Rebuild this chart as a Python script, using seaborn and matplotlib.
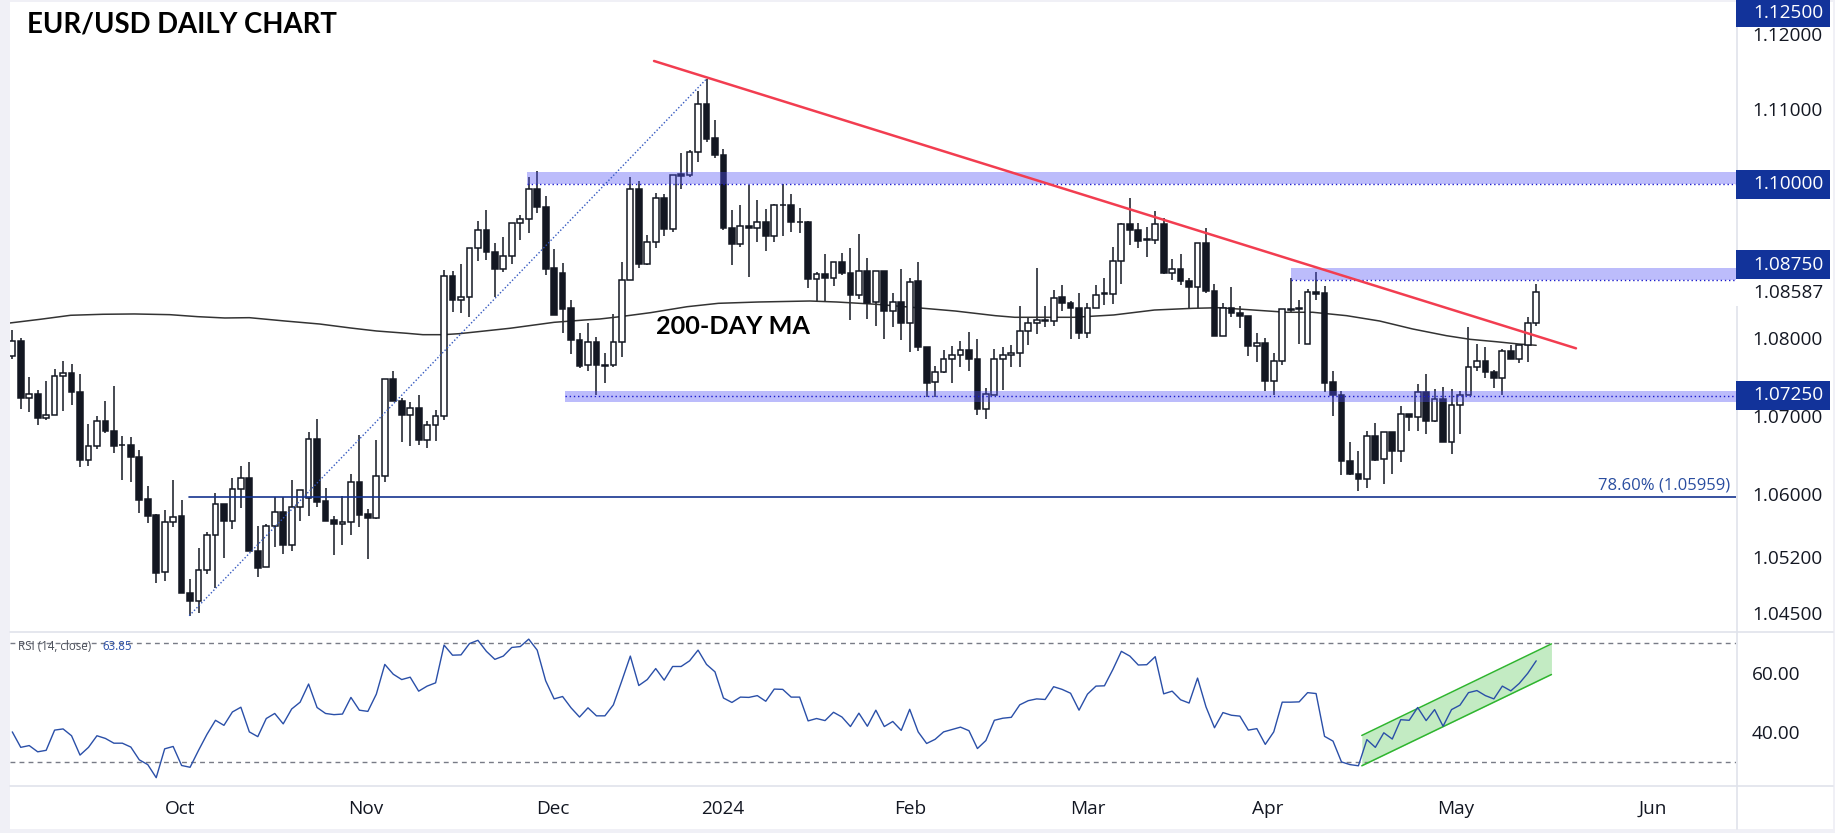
import numpy as np
import pandas as pd
import seaborn as sns
import matplotlib.pyplot as plt
from matplotlib.patches import Rectangle
from matplotlib.lines import Line2D

# daily EUR/USD candles
opens = [1.07764,1.07960,1.07226,1.07277,1.06966,1.07009,1.07504,1.07546,1.07307,1.06428,
1.06612,1.06936,1.06804,1.06629,1.06625,1.06475,1.05938,1.05733,1.05012,1.05647,
1.05720,1.04760,1.04649,1.05037,1.05485,1.05874,1.05665,1.06061,1.06206,1.05281,
1.05078,1.05601,1.05780,1.05359,1.05831,1.05946,1.06700,1.05908,1.05670,1.05623,
1.05653,1.06151,1.05746,1.05704,1.06228,1.07471,1.07186,1.07003,1.07101,1.06688,
1.06879,1.06994,1.08800,1.08484,1.08527,1.09164,1.09399,1.09112,1.08886,1.09055,
1.09494,1.09541,1.09940,1.09706,1.08901,1.08836,1.08381,1.07974,1.07645,1.07948,
1.07654,1.07645,1.07948,1.08753,1.09940,1.08957,1.09247,1.09818,1.09411,1.10132,
1.10128,1.10424,1.11064,1.10609,1.10388,1.09429,1.09221,1.09455,1.09429,1.09507,
1.09320,1.09732,1.09727,1.09511,1.09511,1.08762,1.08831,1.08779,1.08987,1.08844,
1.08554,1.08870,1.08459,1.08870,1.08346,1.08467,1.08190,1.08732,1.07883,1.07429,
1.07558,1.07727,1.07779,1.07844,1.07727,1.07087,1.07268,1.07727,1.07779,1.07805,
1.08086,1.08194,1.08233,1.08216,1.08523,1.08454,1.08389,1.08060,1.08389,1.08562,
1.08567,1.09000,1.09480,1.09402,1.09277,1.09268,1.09480,1.08839,1.08896,1.08740,
1.08658,1.09233,1.08610,1.08021,1.08389,1.08324,1.08285,1.07891,1.07935,1.07437,
1.07699,1.08358,1.08375,1.07919,1.08590,1.08582,1.07428,1.07260,1.06424,1.06255,
1.06187,1.06738,1.06441,1.06789,1.06543,1.07018,1.06988,1.07299,1.06925,1.07209,
1.06658,1.07132,1.07260,1.07622,1.07699,1.07557,1.07488,1.07828,1.07725,1.07906,1.08190]
highs = [1.08101,1.07994,1.07499,1.07333,1.07448,1.07602,1.07704,1.07666,1.07533,1.06898,
1.07000,1.07192,1.07384,1.06744,1.06731,1.06565,1.06104,1.05746,1.05797,1.06181,
1.05925,1.04926,1.05323,1.05524,1.06010,1.05874,1.06202,1.06360,1.06411,1.05592,
1.05627,1.05959,1.05959,1.06181,1.06049,1.06794,1.06960,1.06078,1.05721,1.05976,
1.06257,1.06756,1.05806,1.06692,1.07467,1.07573,1.07224,1.07177,1.07267,1.06935,
1.07075,1.08882,1.08869,1.08960,1.09163,1.09521,1.09665,1.09230,1.09312,1.09491,
1.09602,1.10097,1.10177,1.09849,1.09147,1.08965,1.08485,1.08065,1.08186,1.08013,
1.07805,1.08303,1.08978,1.10097,1.10044,1.09329,1.09888,1.09875,1.10128,1.10415,
1.10455,1.11236,1.11395,1.10852,1.10468,1.09667,1.09732,1.09996,1.09797,1.09680,
1.09745,1.10000,1.09874,1.09693,1.09524,1.08857,1.09082,1.08987,1.09104,1.09169,
1.09342,1.09030,1.08870,1.08870,1.08584,1.08887,1.08771,1.08987,1.07883,1.07641,
1.07844,1.07896,1.07961,1.08069,1.07987,1.07351,1.07857,1.07883,1.07909,1.08407,
1.08272,1.08900,1.08406,1.08614,1.08679,1.08480,1.08575,1.08445,1.08679,1.08770,
1.09173,1.09497,1.09818,1.09497,1.09445,1.09653,1.09558,1.09017,1.09082,1.08779,
1.09233,1.09432,1.08692,1.08445,1.08653,1.08406,1.08285,1.08065,1.08000,1.07805,
1.08371,1.08771,1.08491,1.08633,1.08849,1.08668,1.07570,1.07312,1.06666,1.06551,
1.06802,1.06903,1.06789,1.06789,1.07124,1.07018,1.07402,1.07536,1.07338,1.07368,
1.07342,1.07312,1.08143,1.07923,1.07884,1.07587,1.07854,1.07910,1.07906,1.08272,1.08698]
lows = [1.07730,1.07081,1.07043,1.06876,1.06949,1.07009,1.07064,1.07132,1.06339,1.06352,
1.06569,1.06774,1.06518,1.06181,1.06160,1.05758,1.05630,1.04879,1.04905,1.05583,
1.04751,1.04470,1.04508,1.04995,1.04815,1.05199,1.05558,1.05827,1.05276,1.04956,
1.05078,1.05329,1.05239,1.05286,1.05661,1.05725,1.05840,1.05661,1.05227,1.05354,
1.05482,1.05584,1.05176,1.05687,1.06159,1.07182,1.06658,1.06607,1.06619,1.06581,
1.06671,1.06939,1.08328,1.08315,1.08264,1.08990,1.09012,1.08534,1.08847,1.08960,
1.09264,1.09359,1.09619,1.08814,1.08290,1.08056,1.07797,1.07606,1.07567,1.07264,
1.07424,1.07619,1.07749,1.08753,1.08905,1.08944,1.09165,1.09320,1.09372,1.09944,
1.10102,1.10300,1.10561,1.10353,1.09398,1.08944,1.09178,1.08788,1.09243,1.09126,
1.09242,1.09320,1.09372,1.09359,1.08645,1.08463,1.08480,1.08671,1.08814,1.08229,
1.08502,1.08242,1.08151,1.07983,1.08138,1.07970,1.07814,1.07827,1.07242,1.07242,
1.07541,1.07424,1.07628,1.07576,1.07004,1.06957,1.07260,1.07329,1.07628,1.07628,
1.07913,1.08043,1.08134,1.08147,1.08342,1.07978,1.07978,1.07991,1.08389,1.08419,
1.08432,1.08692,1.09199,1.09160,1.09043,1.09212,1.08822,1.08744,1.08679,1.08372,
1.08381,1.08575,1.08021,1.08021,1.08264,1.08121,1.07761,1.07692,1.07316,1.07259,
1.07652,1.08332,1.07923,1.07919,1.08491,1.07308,1.07001,1.06238,1.06238,1.06034,
1.06072,1.06424,1.06123,1.06250,1.06403,1.06797,1.06797,1.06759,1.06912,1.06658,
1.06505,1.06759,1.07260,1.07566,1.07488,1.07355,1.07260,1.07721,1.07669,1.07682,1.08147]
closes = [1.07956,1.07222,1.07277,1.06966,1.07009,1.07508,1.07546,1.07299,1.06428,1.06612,
1.06932,1.06800,1.06607,1.06620,1.06467,1.05929,1.05724,1.05007,1.05652,1.05716,
1.04751,1.04649,1.05037,1.05485,1.05869,1.05660,1.06061,1.06202,1.05276,1.05071,
1.05601,1.05780,1.05354,1.05831,1.06049,1.06700,1.05904,1.05661,1.05623,1.05653,
1.06151,1.05738,1.05699,1.06228,1.07467,1.07182,1.07003,1.07096,1.06683,1.06879,
1.06994,1.08800,1.08484,1.08527,1.09163,1.09399,1.09108,1.08886,1.09060,1.09491,
1.09546,1.09935,1.09697,1.08892,1.08290,1.08372,1.07970,1.07641,1.07948,1.07645,
1.07641,1.07948,1.08753,1.09935,1.08957,1.09247,1.09818,1.09411,1.10119,1.10115,
1.10424,1.11059,1.10600,1.10380,1.09424,1.09217,1.09455,1.09429,1.09507,1.09320,
1.09727,1.09723,1.09502,1.09502,1.08762,1.08831,1.08775,1.08987,1.08840,1.08554,
1.08870,1.08455,1.08870,1.08346,1.08463,1.08190,1.08727,1.07879,1.07424,1.07558,
1.07727,1.07779,1.07844,1.07723,1.07087,1.07273,1.07727,1.07779,1.07805,1.08091,
1.08194,1.08233,1.08216,1.08519,1.08450,1.08385,1.08060,1.08389,1.08558,1.08575,
1.09000,1.09480,1.09398,1.09255,1.09268,1.09480,1.08839,1.08896,1.08736,1.08658,
1.09233,1.08606,1.08021,1.08389,1.08320,1.08281,1.07891,1.07935,1.07437,1.07701,
1.08371,1.08371,1.08384,1.08590,1.08573,1.07424,1.07260,1.06416,1.06250,1.06187,
1.06738,1.06437,1.06789,1.06543,1.07018,1.06988,1.07299,1.06925,1.07209,1.06658,
1.07132,1.07260,1.07622,1.07699,1.07553,1.07488,1.07828,1.07721,1.07906,1.08190,1.08590]

# 200 day moving average, picked at a handful of bars
ma_bars = [-0.3,3.3,6.9,10.7,14.4,18.6,21.9,25.1,28,32.2,36.3,40,43,46.6,48.5,50.9,52.8,58.8,64,67.6,
69.4,71.8,75.4,79.7,83.4,88.1,94.2,97.4,102.1,107.7,111.4,116.1,118.4,125.4,130.1,134.9,139.4,142.6,
150.5,153.6,157.6,161.5,165.4,169.4,172.2,175.3,178,180]
ma_values = [1.08191,1.08239,1.08291,1.08304,1.08308,1.08299,1.08273,1.08256,1.08260,1.08217,1.08178,1.08126,
1.08088,1.08058,1.08040,1.08040,1.08053,1.08123,1.08200,1.08230,1.08243,1.08273,1.08325,1.08402,1.08446,
1.08463,1.08476,1.08463,1.08433,1.08381,1.08346,1.08286,1.08265,1.08265,1.08295,1.08359,1.08381,1.08389,
1.08330,1.08330,1.08286,1.08217,1.08114,1.08027,1.07980,1.07949,1.07919,1.07903]

rsi_values = [40.2,35.0,35.6,33.5,34.0,40.8,41.2,38.9,32.4,35.0,
38.9,38.0,36.4,36.4,35.1,30.8,29.2,24.8,34.5,35.3,
28.9,28.3,34.0,39.4,44.1,42.4,46.9,48.5,40.2,38.6,
44.7,46.4,42.9,47.9,50.2,56.3,48.4,46.4,46.0,46.2,
51.8,47.5,47.1,52.9,62.9,59.6,57.8,58.6,53.9,55.6,
56.7,69.4,66.0,66.1,69.9,71.0,67.3,64.6,65.7,68.6,
68.9,71.4,67.7,57.4,51.3,52.1,48.3,45.2,48.3,45.6,
45.6,49.3,57.4,65.7,55.8,57.8,61.5,57.6,62.2,62.2,
64.1,67.7,62.9,60.4,51.6,50.1,51.9,51.8,52.4,50.5,
54.6,54.5,51.9,51.9,43.9,44.7,44.0,46.8,45.2,42.0,
46.5,42.1,47.5,42.0,43.7,40.7,
47.8,40.2,36.3,37.7,40.2,41.0,41.8,40.6,34.6,37.3,
44.1,44.8,45.1,49.3,50.7,51.3,51.1,55.4,54.5,53.2,
47.5,52.9,55.6,55.7,61.2,67.3,65.7,62.7,62.8,65.5,
53.0,53.9,51.0,49.9,58.3,48.6,41.6,46.7,45.8,45.5,
40.8,41.3,36.0,40.2,50.2,50.2,50.3,53.4,53.1,38.7,
37.1,30.1,29.2,28.8,37.6,35.0,39.9,37.8,44.3,44.1,
48.4,44.0,47.7,42.1,47.7,49.2,53.4,54.1,52.4,51.3,
55.6,54.0,56.5,59.9,64.1]

month_bars = [19.8,41.8,63.8,83.9,106,127.1,148.3,170.5,193.8]
month_labels = ["Oct","Nov","Dec","2024","Feb","Mar","Apr","May","Jun"]
price_ticks = [1.12,1.11,1.08,1.07,1.06,1.052,1.045]
rsi_ticks = [60,40]

# levels and drawn lines
band_levels = [1.10,1.0875,1.0725]
band_tops = [1.10162,1.08905,1.07315]
band_bottoms = [1.10,1.0875,1.07179]
band_starts = [60.8,151,65.3]
trend_x = [75.8,184.7]
trend_y = [1.11634,1.07864]
fib_x = [20.9,82]
fib_y = [1.04470,1.11395]
fib_level = 1.05959
channel_x = [159.4,181.8]
channel_low = [28.8,59.5]
channel_high = [39.0,69.8]

W, H = 1835, 833
X_LEFT, X_RIGHT = -0.27, 203.6
DARK = "#131722"
NAVY = "#12339a"


def px_box(x0, y0, x1, y1):
    return [x0 / W, 1 - y1 / H, (x1 - x0) / W, (y1 - y0) / H]


sns.set_theme(style="white")
plt.rcParams["font.family"] = ["Open Sans", "DejaVu Sans"]

df = pd.DataFrame({"bar": np.arange(len(opens)), "open": opens, "high": highs,
                   "low": lows, "close": closes, "rsi": rsi_values})
up = df[df["close"] >= df["open"]]
down = df[df["close"] < df["open"]]

fig = plt.figure(figsize=(W / 100, H / 100), dpi=100, facecolor="#f0f0f6")
fig.add_artist(Rectangle((10 / W, 1 - 829 / H), (W - 12) / W, 827 / H, transform=fig.transFigure,
                         facecolor="white", edgecolor="none", zorder=-1))

ax = fig.add_axes(px_box(10, 2, 1736, 632))
ax.patch.set_alpha(0)
ax.set_yscale("log")

# candles
ax.vlines(df["bar"], df["low"], df["high"], color=DARK, lw=1.1, zorder=2)
ax.bar(up["bar"], up["close"] - up["open"], bottom=up["open"], width=0.68,
       facecolor="white", edgecolor=DARK, linewidth=1.1, zorder=3)
ax.bar(down["bar"], down["open"] - down["close"], bottom=down["close"], width=0.68,
       facecolor=DARK, edgecolor=DARK, linewidth=1.1, zorder=3)

sns.lineplot(x=ma_bars, y=ma_values, ax=ax, color="#333333", lw=1.1, zorder=2.5, errorbar=None)

# support/resistance bands sit over the candles
for level, top, bottom, start in zip(band_levels, band_tops, band_bottoms, band_starts):
    ax.fill_between([start, X_RIGHT], bottom, top, color="#5050f5", alpha=0.38, lw=0, zorder=4)
    ax.plot([start, X_RIGHT], [level, level], color="#1a1acc", lw=1.0, ls=(0, (1, 2)), zorder=5)

ax.plot(fib_x, fib_y, color="#3358c0", lw=1.0, ls=(0, (1, 1.5)), zorder=5)
ax.plot([fib_x[0], X_RIGHT], [fib_level, fib_level], color="#15338f", lw=1.2, zorder=5)
ax.plot(trend_x, trend_y, color="#f23d50", lw=1.8, zorder=6)

ax.text(76, 1.08143, "200-DAY MA", fontfamily="Lato", fontweight="bold", fontsize=18.2,
        color="black", va="center", ha="left", zorder=7)
ax.text(202.9, 1.06115, "78.60% (1.05959)", fontsize=12, color="#2a4ea0", va="center", ha="right", zorder=7)

ax.set_xlim(X_LEFT, X_RIGHT)
ax.set_ylim(1.04267, 1.12424)
ax.yaxis.tick_right()
ax.set_yticks(price_ticks)
ax.set_yticklabels([f"{t:.5f}" for t in price_ticks])
ax.minorticks_off()
ax.tick_params(axis="y", length=0, pad=11.5, labelsize=13.7, labelcolor=DARK)
ax.set_xticks([])
ax.set_xlabel("")
ax.set_ylabel("")
sns.despine(ax=ax, left=True, right=True, top=True, bottom=True)

# rsi pane
ax2 = fig.add_axes(px_box(10, 632, 1736, 786))
ax2.patch.set_alpha(0)
ax2.axhline(70, color="#787b86", lw=1, ls=(0, (3.5, 3)))
ax2.axhline(30, color="#787b86", lw=1, ls=(0, (3.5, 3)))
ax2.fill_between(channel_x, channel_low, channel_high, color="#c3ebc3", lw=0, zorder=1)
ax2.plot(channel_x, channel_low, color="#2fb52f", lw=1.1, zorder=2)
ax2.plot(channel_x, channel_high, color="#2fb52f", lw=1.1, zorder=2)
sns.lineplot(data=df, x="bar", y="rsi", ax=ax2, color="#2a4fa8", lw=1.0, zorder=3, errorbar=None)
ax2.set_xlim(X_LEFT, X_RIGHT)
ax2.set_ylim(22.0, 73.8)
ax2.yaxis.tick_right()
ax2.set_yticks(rsi_ticks)
ax2.set_yticklabels([f"{t:.2f}" for t in rsi_ticks])
ax2.set_xticks(month_bars)
ax2.set_xticklabels(month_labels)
ax2.tick_params(axis="y", length=0, pad=11.5, labelsize=13.7, labelcolor=DARK)
ax2.tick_params(axis="x", length=0, pad=10, labelsize=13.7, labelcolor=DARK)
ax2.set_xlabel("")
ax2.set_ylabel("")
sns.despine(ax=ax2, left=True, right=True, top=True, bottom=True)
fig.text(18 / W, 1 - 647 / H, "RSI (14, close)", fontsize=8.3, color="#4a4e59", va="center", ha="left")
fig.text(102 / W, 1 - 647 / H, "63.85", fontsize=8.3, color="#2a4fa8", va="center", ha="left")

# pane separators
for y in (632, 786):
    fig.add_artist(Line2D([10 / W, 1833 / W], [1 - y / H, 1 - y / H], color="#e0e3eb", lw=1.2, zorder=1))
fig.add_artist(Line2D([1736.5 / W, 1736.5 / W], [1 - 2 / H, 1 - 829 / H], color="#e0e3eb", lw=1.2, zorder=1))

# price label boxes on the right
fig.add_artist(Rectangle((1736 / W, 1 - 306 / H), 94 / W, 27 / H, transform=fig.transFigure,
                         facecolor="white", edgecolor="none", zorder=2))
fig.text(1788 / W, 1 - 293.3 / H, "1.08587", fontsize=13.7, color=DARK, va="center", ha="center", zorder=3)
box_labels = ["1.12500", "1.10000", "1.08750", "1.07250"]
box_tops = [0, 170, 250, 381]
box_bottoms = [27, 198.7, 279, 409.7]
for label, y0, y1 in zip(box_labels, box_tops, box_bottoms):
    fig.add_artist(Rectangle((1736 / W, 1 - y1 / H), 94 / W, (y1 - y0) / H, transform=fig.transFigure,
                             facecolor=NAVY, edgecolor="none", zorder=2))
    fig.text(1788 / W, 1 - (y0 + y1) / 2 / H, label, fontsize=13.7, color="white", fontweight="medium",
             va="center", ha="center", zorder=3)

fig.text(27 / W, 1 - 24 / H, "EUR/USD DAILY CHART", fontfamily="Lato", fontweight="bold", fontsize=19.8,
         color="black", va="center", ha="left")

fig.savefig("out.png", dpi=100, facecolor=fig.get_facecolor())
